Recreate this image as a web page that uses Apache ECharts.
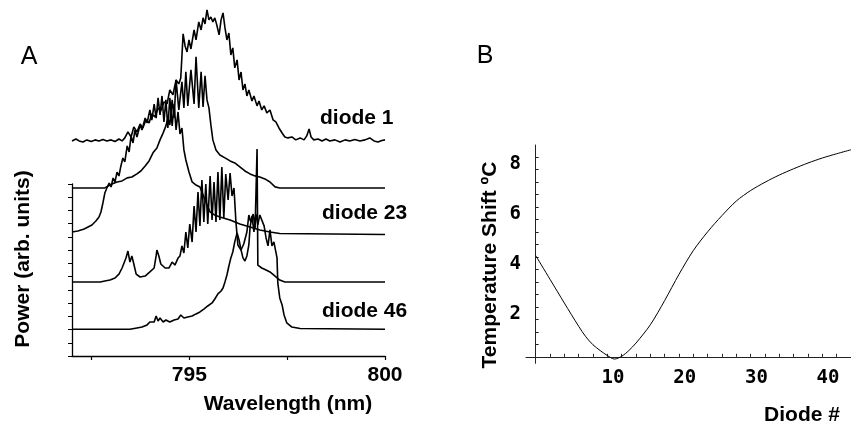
<!DOCTYPE html>
<html>
<head>
<meta charset="utf-8">
<script src="https://cdn.jsdelivr.net/npm/echarts@6/dist/echarts.min.js"></script>
<style>
html,body{margin:0;padding:0;background:#fff;}
#chart{width:851px;height:427px;}
</style>
</head>
<body>
<div id="chart"></div>
<script>
// ---------------- Panel A: diode spectra (wavelength nm, power arb. units) ----------------
const diode1 = [[792.00,0],[792.10,0.15],[792.18,0],[792.28,-0.08],[792.38,0.08],[792.49,-0.04],[792.59,0.08],[792.69,0],[792.79,0.11],[792.89,0],[793.00,0.08],[793.10,-0.04],[793.20,0.15],[793.28,0],[793.35,0.23],[793.43,0.68],[793.51,0.3],[793.58,1.06],[793.66,0.68],[793.74,1.28],[793.81,0.98],[793.89,1.59],[793.97,1.36],[794.04,2.04],[794.12,1.81],[794.20,2.49],[794.27,2.27],[794.35,2.95],[794.43,2.8],[794.50,3.85],[794.58,3.48],[794.66,4.61],[794.73,4.31],[794.78,4.76],[794.84,8.09],[794.89,7.18],[794.94,6.73],[794.99,7.63],[795.04,6.95],[795.12,8.39],[795.17,7.63],[795.24,8.99],[795.30,8.39],[795.35,9.3],[795.40,8.84],[795.45,9.9],[795.50,9.15],[795.55,9.37],[795.60,8.99],[795.65,9.3],[795.70,8.77],[795.76,8.01],[795.81,9.15],[795.86,9.67],[795.91,8.54],[795.96,7.63],[796.01,8.16],[796.06,6.5],[796.11,7.03],[796.16,5.52],[796.22,6.12],[796.27,4.61],[796.32,5.21],[796.37,3.85],[796.42,4.31],[796.47,3.4],[796.52,3.85],[796.60,3.02],[796.65,3.4],[796.73,2.65],[796.78,3.02],[796.85,2.34],[796.91,2.65],[796.98,2.12],[797.06,2.34],[797.14,1.59],[797.21,1.44],[797.29,0.98],[797.37,0.6],[797.44,0.3],[797.52,0.23],[797.62,0.3],[797.72,0.08],[797.83,0.23],[797.93,0.08],[798.00,0.38],[798.06,0.91],[798.11,0.3],[798.18,0.08],[798.29,0.15],[798.39,0],[798.49,0.15],[798.59,0],[798.72,0.08],[798.85,-0.08],[798.98,0.08],[799.10,0],[799.23,0.11],[799.36,0],[799.49,0.08],[799.61,0.23],[799.72,0],[799.82,-0.08],[799.92,0.04],[800.00,0.08]];

const diode12 = [[792.00,0],[792.84,0],[792.89,0.15],[793.02,0.3],[793.15,0.45],[793.28,0.53],[793.41,0.76],[793.53,0.83],[793.66,1.06],[793.76,1.28],[793.87,1.66],[793.97,2.04],[794.07,2.65],[794.17,3.02],[794.25,3.63],[794.33,4.16],[794.40,4.69],[794.45,5.29],[794.50,4.76],[794.56,6.65],[794.61,5.29],[794.66,8.16],[794.73,5.9],[794.81,8.01],[794.86,6.05],[794.91,8.77],[794.96,6.2],[795.04,8.92],[795.12,6.35],[795.17,9.9],[795.24,6.05],[795.30,8.77],[795.35,6.12],[795.40,8.47],[795.45,6.65],[795.50,6.05],[795.55,4.76],[795.60,3.63],[795.68,2.87],[795.78,2.49],[795.91,2.27],[796.04,2.04],[796.16,1.89],[796.29,1.59],[796.42,1.28],[796.55,1.06],[796.68,0.91],[796.80,0.83],[796.93,0.68],[797.06,0.45],[797.19,0.08],[797.31,0],[800.00,0]];

const diode23 = [[792.00,0.19],[792.15,0.26],[792.31,0.42],[792.41,0.57],[792.51,0.72],[792.61,1.02],[792.69,1.32],[792.74,1.7],[792.79,2.38],[792.84,3.14],[792.89,3.51],[792.95,3.89],[793.00,3.59],[793.05,4.27],[793.10,3.97],[793.15,4.72],[793.20,4.42],[793.25,5.18],[793.30,5.78],[793.35,5.48],[793.41,6.69],[793.46,6.24],[793.51,7.45],[793.56,6.92],[793.61,7.9],[793.66,7.37],[793.74,8.28],[793.79,7.9],[793.87,8.8],[793.92,8.43],[793.99,9.41],[794.04,8.65],[794.10,9.86],[794.15,8.8],[794.20,10.32],[794.25,9.03],[794.30,10.47],[794.35,8.5],[794.40,10.17],[794.45,8.05],[794.50,10.32],[794.56,8.2],[794.61,9.86],[794.66,7.9],[794.71,9.26],[794.76,7.6],[794.81,8.05],[794.86,6.39],[794.91,5.63],[794.99,4.72],[795.07,3.97],[795.17,3.74],[795.27,3.59],[795.40,2.61],[795.53,1.7],[795.65,1.47],[795.78,1.32],[796.04,1.1],[796.29,0.79],[796.55,0.57],[796.80,0.34],[797.06,0.19],[797.31,0.08],[800.00,0]];

const diode35 = [[792.00,0],[792.72,0],[792.84,0.08],[792.97,0.15],[793.10,0.3],[793.20,0.6],[793.28,1.06],[793.33,1.13],[793.38,1.81],[793.43,2.34],[793.48,1.51],[793.53,1.97],[793.58,1.36],[793.64,0.6],[793.74,0.38],[793.87,0.45],[793.99,0.76],[794.10,1.06],[794.15,1.97],[794.17,2.42],[794.22,1.97],[794.27,1.36],[794.38,1.06],[794.48,1.06],[794.56,1.51],[794.63,1.28],[794.71,1.81],[794.76,1.97],[794.81,2.72],[794.86,2.19],[794.91,3.78],[794.96,2.57],[795.01,4.38],[795.07,3.02],[795.12,5.74],[795.17,3.78],[795.22,6.8],[795.27,4.23],[795.32,7.71],[795.37,4.54],[795.42,7.41],[795.47,4.38],[795.53,8.01],[795.58,4.69],[795.63,7.56],[795.68,4.54],[795.73,8.31],[795.78,4.69],[795.83,8.69],[795.88,4.84],[795.93,8.16],[795.99,6.2],[796.04,8.24],[796.09,6.5],[796.14,7.1],[796.19,4.54],[796.24,2.8],[796.32,2.42],[796.39,2.87],[796.47,3.78],[796.52,5.06],[796.57,4.54],[796.63,5.14],[796.68,4.08],[796.73,10.05],[796.75,1.28],[796.85,1.06],[796.96,0.91],[797.06,0.76],[797.19,0.45],[797.31,0.15],[797.44,0],[800.00,0]];

const diode46 = [[792.00,0],[793.48,0],[793.66,0.1],[793.79,0.17],[793.92,0.33],[793.99,0.55],[794.04,0.7],[794.10,0.55],[794.15,1.0],[794.20,0.63],[794.25,0.85],[794.33,0.55],[794.40,0.7],[794.50,0.55],[794.61,0.7],[794.71,0.78],[794.78,1.08],[794.86,0.85],[794.96,0.93],[795.07,1.0],[795.17,1.16],[795.27,1.31],[795.37,1.53],[795.47,1.76],[795.58,1.99],[795.65,2.29],[795.73,2.67],[795.81,2.89],[795.86,3.12],[795.91,3.58],[795.96,4.1],[796.01,4.78],[796.06,5.39],[796.11,5.84],[796.16,6.6],[796.22,7.28],[796.27,6.75],[796.32,6.0],[796.37,5.39],[796.42,5.16],[796.47,5.54],[796.52,6.37],[796.55,7.66],[796.60,8.57],[796.65,7.36],[796.70,8.72],[796.75,7.89],[796.80,8.64],[796.85,8.57],[796.91,7.81],[796.96,6.9],[797.01,6.3],[797.06,7.51],[797.11,6.3],[797.16,6.6],[797.21,6.6],[797.24,5.39],[797.26,3.5],[797.31,2.37],[797.37,1.84],[797.42,1.08],[797.49,0.48],[797.62,0.17],[797.83,0.06],[800.00,0]];

const spectra = [diode1, diode12, diode23, diode35, diode46];
const baselineOffsets = [16.25, 12.70, 9.18, 5.59, 2.02];
const spectrumLabels = ['diode 1', 'diode 23', 'diode 46'];
const wavelengthTicks = [792.5, 795, 797.5, 800];
const wavelengthLabels = [795, 800];

// ---------------- Panel B: temperature shift vs diode number ----------------
const diodeNumber = [0,2,4,6,7,8,9,10,11,12,13,14,16,18,20,22,24,26,28,30,32,34,36,38,40,42,44];
const tempShift   = [4.05,3.1,2.15,1.22,0.8,0.48,0.25,0.05,-0.09,0.02,0.25,0.55,1.28,2.25,3.3,4.25,5.0,5.65,6.23,6.65,6.98,7.27,7.52,7.75,7.95,8.12,8.28];
const diodeTicks = [2,4,6,8,10,12,14,16,18,20,22,24,26,28,30,32,34,36,38,40,42,44];
const diodeTickLabels = [10,20,30,40];
const shiftTicks = [0.5,1,1.5,2,2.5,3,3.5,4,4.5,5,5.5,6,6.5,7,7.5,8];
const shiftTickLabels = [2,4,6,8];

const chart = echarts.init(document.getElementById('chart'), null, {renderer:'canvas'});
const black = '#000';
const sans = '"Liberation Sans", Arial, sans-serif';
const mono = '"DejaVu Sans Mono", monospace';

const spectraSeries = spectra.map((s, i) => ({
  type:'line', xAxisIndex:0, yAxisIndex:0, showSymbol:false, animation:false,
  lineStyle:{color:black, width:1.6}, clip:false,
  data: s.map(p => [p[0], p[1] + baselineOffsets[i]])
}));

const option = {
  backgroundColor:'#fff',
  animation:false,
  grid:[
    {left:72, top:0, width:313, height:356},
    {left:72, top:184, width:313, height:172},
    {left:526, top:145, width:325, height:218.3}
  ],
  xAxis:[
    {gridIndex:0, type:'value', min:792, max:800,
     axisLine:{show:true, lineStyle:{color:black, width:1.3}},
     axisTick:{show:true, length:4, customValues:wavelengthTicks, lineStyle:{color:black, width:1.2}},
     axisLabel:{show:true, customValues:wavelengthLabels, margin:9, color:black, fontFamily:sans, fontWeight:'bold', fontSize:21},
     splitLine:{show:false}},
    {gridIndex:1, type:'value', min:0, max:1, show:false},
    {gridIndex:2, type:'value', min:-1.35, max:44,
     axisLine:{show:true, onZero:true, lineStyle:{color:'#222', width:1}},
     axisTick:{show:true, inside:true, length:3, customValues:diodeTicks, lineStyle:{color:'#222', width:1}},
     axisLabel:{show:true, customValues:diodeTickLabels, margin:5, color:black, fontFamily:mono, fontWeight:'bold', fontSize:19,
       formatter: v => ' ' + v},
     splitLine:{show:false}}
  ],
  yAxis:[
    {gridIndex:0, type:'value', min:0, max:26.9, show:false},
    {gridIndex:1, type:'value', min:0, max:13, interval:1,
     axisLine:{show:true, lineStyle:{color:black, width:1.3}},
     axisTick:{show:true, length:4, lineStyle:{color:black, width:1}},
     axisLabel:{show:false}, splitLine:{show:false}},
    {gridIndex:2, type:'value', min:-0.26, max:8.47,
     axisLine:{show:true, onZero:true, lineStyle:{color:'#222', width:1}},
     axisTick:{show:true, inside:true, length:3, customValues:shiftTicks, lineStyle:{color:'#222', width:1}},
     axisLabel:{show:true, customValues:shiftTickLabels, margin:5, verticalAlign:'top', lineHeight:15, color:black, fontFamily:mono, fontWeight:'bold', fontSize:19},
     splitLine:{show:false}}
  ],
  series: spectraSeries.concat([{
    type:'line', xAxisIndex:2, yAxisIndex:2, showSymbol:false, animation:false,
    smooth:0.3, clip:false,
    lineStyle:{color:black, width:1},
    data: diodeNumber.map((d, i) => [d, tempShift[i]])
  }]),
  graphic:[
    {type:'text', x:29, y:57, style:{text:'A', font:'25px ' + sans, fill:black, align:'center', verticalAlign:'middle', textAlign:'center', textVerticalAlign:'middle'}},
    {type:'text', x:485, y:56, style:{text:'B', font:'25px ' + sans, fill:black, align:'center', verticalAlign:'middle', textAlign:'center', textVerticalAlign:'middle'}},
    {type:'text', x:320, y:118, style:{text:spectrumLabels[0], font:'bold 21px ' + sans, fill:black, align:'left', verticalAlign:'middle', textAlign:'left', textVerticalAlign:'middle'}},
    {type:'text', x:322, y:213, style:{text:spectrumLabels[1], font:'bold 21px ' + sans, fill:black, align:'left', verticalAlign:'middle', textAlign:'left', textVerticalAlign:'middle'}},
    {type:'text', x:322, y:311, style:{text:spectrumLabels[2], font:'bold 21px ' + sans, fill:black, align:'left', verticalAlign:'middle', textAlign:'left', textVerticalAlign:'middle'}},
    {type:'text', x:288, y:404, style:{text:'Wavelength (nm)', font:'bold 21px ' + sans, fill:black, align:'center', verticalAlign:'middle', textAlign:'center', textVerticalAlign:'middle'}},
    {type:'text', x:23, y:259, rotation:Math.PI/2, style:{text:'Power (arb. units)', font:'bold 21px ' + sans, fill:black, align:'center', verticalAlign:'middle', textAlign:'center', textVerticalAlign:'middle'}},
    {type:'text', x:490, y:265, rotation:Math.PI/2, style:{text:'Temperature Shift ºC', font:'bold 21px ' + sans, fill:black, align:'center', verticalAlign:'middle', textAlign:'center', textVerticalAlign:'middle'}},
    {type:'text', x:802, y:415, style:{text:'Diode #', font:'bold 21px ' + sans, fill:black, align:'center', verticalAlign:'middle', textAlign:'center', textVerticalAlign:'middle'}}
  ]
};
chart.setOption(option);
</script>
</body>
</html>
